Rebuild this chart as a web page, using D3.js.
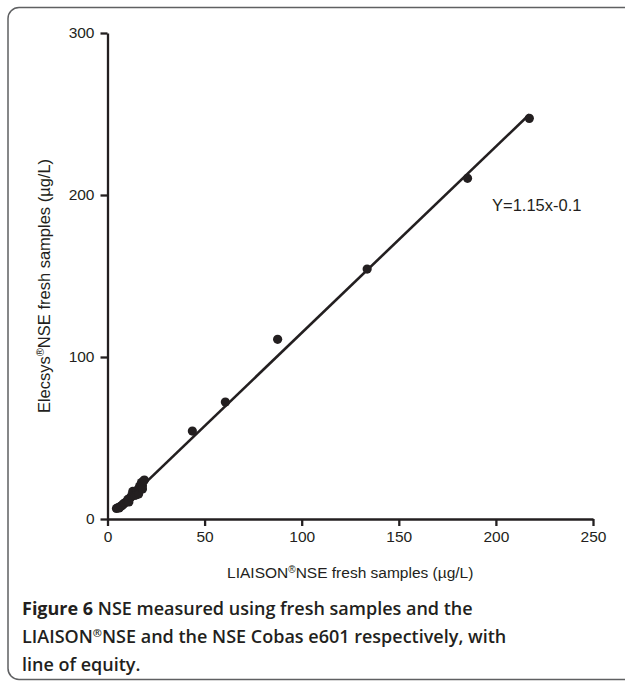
<!DOCTYPE html>
<html lang="en">

<head>
    <meta charset="UTF-8">
    <title>NSE fresh samples: LIAISON vs Elecsys</title>
    <style>
        body {
            margin: 0;
            overflow: hidden;
            background: #fff;
        }

        svg {
            display: block;
        }

        .axis text,
        .label {
            font-family: "Liberation Sans", Arial, sans-serif;
            fill: #231f20;
        }

        .caption {
            font-family: "Open Sans", sans-serif;
            fill: #231f20;
        }
    </style>
</head>

<body>
    <svg></svg>

    <script src="https://d3js.org/d3.v7.min.js"></script>
    <script>
        const width = 625;
        const height = 681;

        // LIAISON (x) vs Elecsys (y), µg/L
        const liaison = [4.6, 5.5, 6, 6.5, 7, 7.5, 8, 8.5, 9, 10, 10.5, 11, 11, 12, 12.5, 13, 13, 14, 14.5, 15, 15,
            16, 16, 16.5, 17, 17.5, 18, 18, 18.5, 19,
            43.7, 60.7, 87.6, 133.7, 185.4, 217.2];
        const elecsys = [6.5, 7, 6.8, 7.5, 8, 8.3, 9, 9.5, 10, 11, 12, 12.5, 10.5, 13.5, 14.5, 15, 17, 14.5, 16.5, 17.5, 15,
            18.5, 15.5, 20, 21, 22.5, 20.5, 18.5, 23.5, 24,
            54.3, 72.2, 110.9, 154.3, 210.3, 247.3];

        const xTicks = [0, 50, 100, 150, 200, 250];
        const yTicks = [0, 100, 200, 300];

        // fitted line Y = 1.15x - 0.1
        const slope = 1.15;
        const intercept = -0.1;

        // each piece: [text, bold, superscript]
        const captionLines = [
            [["Figure 6", true], [" NSE measured using fresh samples and the"]],
            [["LIAISON"], ["®", false, true], ["NSE and the NSE Cobas e601 respectively, with"]],
            [["line of equity."]]
        ];

        const svg = d3.select("svg")
            .attr("width", width)
            .attr("height", height);

        // figure frame, open to the right
        svg.append("rect")
            .attr("x", 8)
            .attr("y", 7.5)
            .attr("width", 700)
            .attr("height", 672)
            .attr("rx", 11)
            .attr("fill", "none")
            .attr("stroke", "#5f6062")
            .attr("stroke-width", 1.5);

        const x = d3.scaleLinear().domain([0, 250]).range([107.5, 593]);
        const y = d3.scaleLinear().domain([0, 300]).range([519, 33]);

        svg.append("g")
            .attr("class", "axis")
            .attr("transform", `translate(0,${y(0)})`)
            .call(d3.axisBottom(x).tickValues(xTicks).tickSize(7).tickSizeOuter(0).tickPadding(5));

        svg.append("g")
            .attr("class", "axis")
            .attr("transform", `translate(${x(0)},0)`)
            .call(d3.axisLeft(y).tickValues(yTicks).tickSize(7).tickSizeOuter(0).tickPadding(6));

        svg.selectAll(".axis path, .axis line")
            .attr("stroke", "#231f20")
            .attr("stroke-width", 2.3);
        svg.selectAll(".axis text")
            .style("font-size", "15.5px");

        // axis titles
        const xTitle = svg.append("text")
            .attr("class", "label")
            .attr("x", (x(0) + x(250)) / 2)
            .attr("y", 578)
            .attr("text-anchor", "middle")
            .style("font-size", "15.5px");
        xTitle.append("tspan").text("LIAISON");
        xTitle.append("tspan").attr("dy", -5).style("font-size", "10px").text("®");
        xTitle.append("tspan").attr("dy", 5).text("NSE fresh samples (µg/L)");

        const yTitle = svg.append("text")
            .attr("class", "label")
            .attr("transform", "translate(50,286) rotate(-90)")
            .attr("text-anchor", "middle")
            .style("font-size", "16.5px");
        yTitle.append("tspan").text("Elecsys");
        yTitle.append("tspan").attr("dy", -6).style("font-size", "11px").text("®");
        yTitle.append("tspan").attr("dy", 6).text("NSE fresh samples (µg/L)");

        // line of fit
        const xMin = d3.min(liaison);
        const xMax = d3.max(liaison);
        svg.append("line")
            .attr("x1", x(xMin))
            .attr("y1", y(slope * xMin + intercept))
            .attr("x2", x(xMax))
            .attr("y2", y(slope * xMax + intercept))
            .attr("stroke", "#231f20")
            .attr("stroke-width", 2.6);

        // points
        svg.append("g")
            .selectAll("circle")
            .data(liaison.map((d, i) => [d, elecsys[i]]))
            .join("circle")
            .attr("cx", d => x(d[0]))
            .attr("cy", d => y(d[1]))
            .attr("r", 4.6)
            .attr("fill", "#231f20");

        svg.append("text")
            .attr("class", "label")
            .attr("x", 492)
            .attr("y", 211)
            .style("font-size", "16.5px")
            .text(`Y=${slope}x${intercept}`);

        // caption
        captionLines.forEach((parts, i) => {
            const t = svg.append("text")
                .attr("class", "caption")
                .attr("x", 22)
                .attr("y", 615 + i * 28)
                .style("font-size", "18px");
            let raised = false;
            parts.forEach(([str, bold, sup]) => {
                const s = t.append("tspan")
                    .style("font-weight", bold ? "bold" : "600")
                    .text(str);
                if (sup) {
                    s.attr("dy", -6).style("font-size", "11px");
                    raised = true;
                } else if (raised) {
                    s.attr("dy", 6);
                    raised = false;
                }
            });
        });
    </script>
</body>

</html>
